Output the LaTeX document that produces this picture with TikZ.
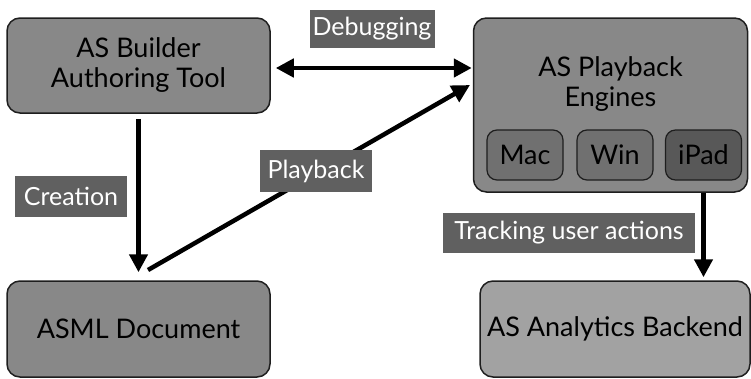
\documentclass[tikz,border=0pt]{standalone}
\usepackage{fontspec}
\setmainfont{Lato}
\usetikzlibrary{arrows.meta}
\definecolor{boxgray}{HTML}{888888}
\definecolor{lightgray2}{HTML}{A2A2A2}
\definecolor{subgray}{HTML}{707070}
\definecolor{ipadgray}{HTML}{585858}
\definecolor{labgray}{HTML}{606060}
\definecolor{edge}{HTML}{1E1E1E}
\begin{document}
\begin{tikzpicture}[x=1pt,y=-1pt,
  mainbox/.style={draw=edge,line width=1.5pt,rounded corners=13pt,fill=boxgray,align=center,inner sep=0pt,font=\fontsize{27}{30}\selectfont},
  subbox/.style={draw=edge,line width=1.2pt,rounded corners=10pt,fill=subgray,inner sep=0pt,minimum width=76pt,minimum height=50pt,font=\fontsize{27}{30}\selectfont},
  lab/.style={fill=labgray,text=white,inner sep=0pt,font=\fontsize{25}{28}\selectfont},
  arr/.style={line width=4.5pt,-{Triangle[length=18pt,width=18pt]}},
  darr/.style={line width=4.5pt,{Triangle[length=18pt,width=18pt]}-{Triangle[length=18pt,width=18pt]}}
]
\useasboundingbox (0,0) rectangle (751,378);
\node[mainbox,minimum width=263pt,minimum height=95pt] (builder) at (138.5,65.5) {AS Builder\\Authoring Tool};
\node[mainbox,minimum width=274pt,minimum height=174pt] (eng) at (610.5,105) {};
\node[align=center,inner sep=0pt,font=\fontsize{27}{30}\selectfont] (engtxt) at (610.5,84) {AS Playback\\Engines};
\node[subbox] (mac) at (525,155) {Mac};
\node[subbox] (win) at (615,155) {Win};
\node[subbox,fill=ipadgray] (ipad) at (703.5,155) {iPad};
\node[mainbox,minimum width=263pt,minimum height=96pt] (asml) at (138.5,329) {ASML Document};
\node[mainbox,fill=lightgray2,minimum width=270pt,minimum height=96pt] (ana) at (615,329) {AS Analytics Backend};
\coordinate (pbs) at (148,270);
\coordinate (pbe) at (470,85);
\draw[darr,shorten <=5pt,shorten >=1pt] (builder.east) ++(0,2.5) coordinate (dbs) -- (dbs -| eng.west);
\draw[arr,shorten <=5pt,shorten >=8pt] (builder.south) -- (asml.north);
\draw[arr] (pbs) -- (pbe);
\draw[arr,shorten >=3pt] (ipad.south |- eng.south) -- (ipad.south |- ana.north);
\node[lab,minimum width=125pt,minimum height=38pt] (ldebug) at (372,29) {Debugging};
\node[lab,minimum width=112pt,minimum height=42pt] (lplay) at (316,171) {Playback};
\node[lab,minimum width=112pt,minimum height=41pt] (lcre) at (71,196.5) {Creation};
\node[lab,minimum width=252pt,minimum height=40pt] (ltrack) at (569,233) {Tracking user actions};
\end{tikzpicture}
\end{document}
